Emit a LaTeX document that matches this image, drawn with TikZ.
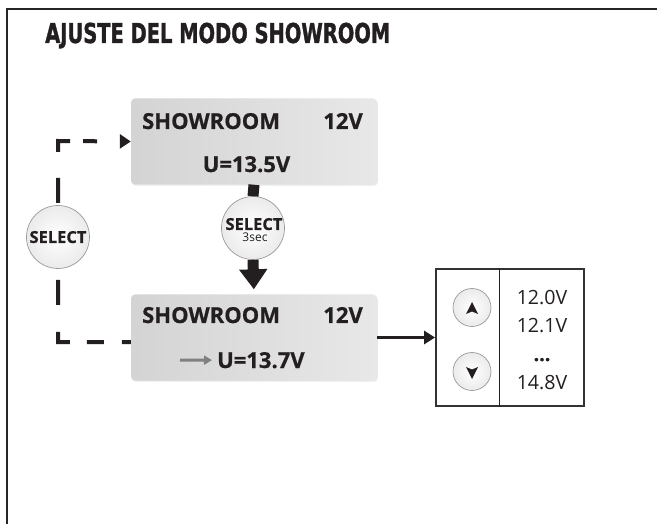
\documentclass[tikz,border=0pt]{standalone}
\usepackage{fontspec}
\setmainfont{Open Sans}[BoldFeatures={FakeBold=0.7}]
\newfontfamily\titlefont[FakeStretch=0.71,BoldFeatures={FakeBold=1.2}]{DejaVu Sans}
\usetikzlibrary{arrows.meta,shadows}
\definecolor{ink}{HTML}{231F20}
\newcommand{\labfont}{\bfseries\fontsize{22}{22}\selectfont}
\newcommand{\selfont}{\bfseries\fontsize{16.5}{16.5}\selectfont}
\newcommand{\valfont}{\fontsize{19.6}{19.6}\selectfont}
\begin{document}
\begin{tikzpicture}[x=1pt,y=-1pt,
  txt/.style={text=ink, inner sep=0pt},
  lcd/.style={rounded corners=4pt, left color=black!17, right color=black!9,
    minimum width=246pt, minimum height=86pt, inner sep=0pt,
    drop shadow={shadow xshift=0.8pt, shadow yshift=-1.2pt, opacity=0.18}},
  btn/.style={circle, draw=black!40, line width=0.7pt, inner color=white,
    outer color=black!8, minimum size=63pt, inner sep=0pt},
  sbtn/.style={circle, draw=black!40, line width=0.7pt, inner color=white,
    outer color=black!8, minimum size=38pt, inner sep=0pt},
  dashconn/.style={ink, line width=4pt,
    dash pattern=on 9pt off 18pt on 17pt off 17pt on 22pt off 27pt on 25pt off 77pt on 25pt off 26pt on 23pt off 13pt on 14pt off 50pt},
  conn/.style={ink, line width=3.5pt}
]
\useasboundingbox (0,0) rectangle (657,524);
\fill[white] (0,0) rectangle (657,524);
% frame
\draw[line width=2.5pt, black!85] (657,9) -- (7,9) -- (7,524);
% title
\node[txt, anchor=base west, font=\titlefont\bfseries\fontsize{27.4}{27.4}\selectfont] (title) at (45,43) {AJUSTE DEL MODO SHOWROOM};

% LCD boxes
\node[lcd] (lcd1) at (254,141.5) {};
\node[lcd] (lcd2) at (254,337.5) {};

% dashed loop (drawn before circle)
\coordinate (cb) at (58,342);
\coordinate (ct) at (58,141);
\draw[dashconn, -{Triangle[length=11pt,width=14pt]}] ([yshift=-4.5pt]lcd2.west) -- (cb) -- (ct) -- (lcd1.west);

% texts in LCD 1
\node[txt, anchor=base west, font=\labfont] (s1) at (142,129) {SHOWROOM};
\node[txt, anchor=base east, font=\labfont] (v1) at (363,129) {12V};
\node[txt, anchor=base, font=\labfont] (u1) at (246.5,172) {U=13.5V};
% texts in LCD 2
\node[txt, anchor=base west, font=\labfont] (s2) at (142,323) {SHOWROOM};
\node[txt, anchor=base east, font=\labfont] (v2) at (363,323) {12V};
\node[txt, anchor=base west, font=\labfont] (u2) at (217,368) {U=13.7V};
\coordinate (ga) at (180,360);
\draw[black!50, line width=3pt, -{Triangle[length=8pt,width=9pt]}, shorten >=5pt] (ga) -- (u2.west);

% SELECT buttons
\node[btn] (sel1) at (58,237) {};
\node[txt, anchor=base, font=\selfont] (sel1t) at (58,243) {SELECT};
\node[btn] (sel2) at (253,228) {};
\node[txt, anchor=base, font=\selfont] (sel2t) at (254,230) {SELECT};
\node[txt, anchor=base, font=\fontsize{12}{12}\selectfont] (sel2s) at (255,242) {3sec};

% thick arrow
\draw[ink, line width=11pt] (lcd1.south) -- (sel2.north);
\draw[ink, line width=11pt, -{Triangle[length=20pt,width=27pt]}, shorten >=5pt] (sel2.south) -- (lcd2.north);

% list box
\node[draw=black!80, line width=1.8pt, minimum width=148pt, minimum height=137pt, inner sep=0pt] (list) at (510,337.5) {};
\draw[ink, line width=0.9pt] ([xshift=64pt]list.north west) -- ([xshift=64pt]list.south west);
\draw[conn, -{Triangle[length=11pt,width=13pt]}] (lcd2.east) -- (list.west);

\node[sbtn] (up) at (472,307.5) {};
\fill[ink, shift={(up.center)}] (0,-5.5) -- (6,6.5) -- (0,4) -- (-6,6.5) -- cycle;
\node[sbtn] (down) at (472,371.5) {};
\fill[ink, shift={(down.center)}] (0,7.5) -- (6,-4.5) -- (0,-2) -- (-6,-4.5) -- cycle;

\node[txt, anchor=base, font=\valfont] (v120) at (542,305) {12.0V};
\node[txt, anchor=base, font=\valfont] (v121) at (542,332) {12.1V};
\node[txt, anchor=base, font=\valfont\bfseries] (vdots) at (542,361) {...};
\node[txt, anchor=base, font=\valfont] (v148) at (542,389) {14.8V};
\end{tikzpicture}
\end{document}
